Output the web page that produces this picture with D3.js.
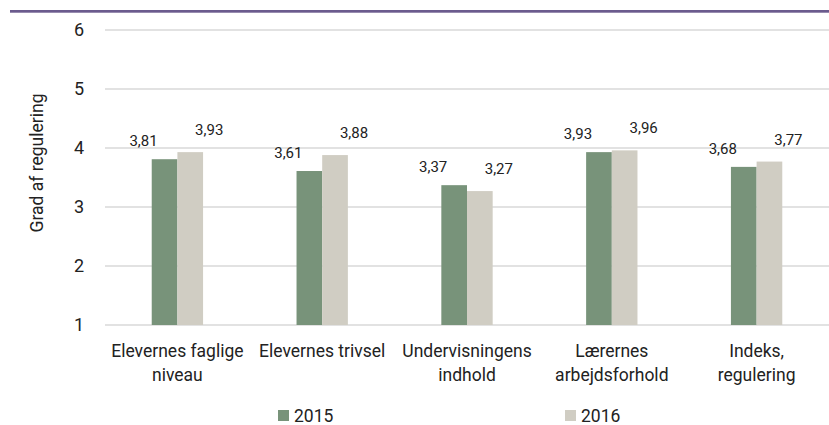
<!DOCTYPE html>
<html>
<head>
<meta charset="utf-8">
<script src="https://cdn.jsdelivr.net/npm/d3@7"></script>
<style>
  body { margin: 0; background: #fff; }
  svg { display: block; font-family: Roboto, "DejaVu Sans", sans-serif; }
</style>
</head>
<body>
<svg width="829" height="425"></svg>
<script>
var width = 829;
var height = 425;

var categories = [
  ["Elevernes faglige", "niveau"],
  ["Elevernes trivsel"],
  ["Undervisningens", "indhold"],
  ["Lærernes", "arbejdsforhold"],
  ["Indeks,", "regulering"]
];
var years = ["2015", "2016"];
var values2015 = [3.81, 3.61, 3.37, 3.93, 3.68];
var values2016 = [3.93, 3.88, 3.27, 3.96, 3.77];
var yTicks = [1, 2, 3, 4, 5, 6];

var colors = {"2015": "#78937a", "2016": "#d0cdc3"};
var labelShift = {"2015": [-21, -13], "2016": [19, -17]};

var svg = d3.select("svg");

// top rule
svg.append("rect")
  .attr("x", 10).attr("y", 10)
  .attr("width", width - 10).attr("height", 2.7)
  .attr("fill", "#6b5b8e");

var x = d3.scaleBand()
  .domain(d3.range(categories.length))
  .range([105, 829]);

var xs = d3.scaleBand()
  .domain(years)
  .range([0, x.bandwidth()])
  .paddingInner(0)
  .paddingOuter(1.82);

var y = d3.scaleLinear()
  .domain([1, 6])
  .range([325, 30]);

// gridlines
svg.append("g")
  .selectAll("line")
  .data(yTicks)
  .enter()
  .append("line")
  .attr("x1", 105)
  .attr("x2", 829)
  .attr("y1", function(d) { return y(d); })
  .attr("y2", function(d) { return y(d); })
  .attr("stroke", "#d9d9d9")
  .attr("stroke-width", 1.5);

// y tick labels
svg.append("g")
  .selectAll("text")
  .data(yTicks)
  .enter()
  .append("text")
  .attr("x", 84)
  .attr("y", function(d) { return y(d); })
  .attr("dy", "0.36em")
  .attr("text-anchor", "end")
  .attr("font-size", 18)
  .attr("fill", "#222")
  .text(function(d) { return d; });

// y title
svg.append("text")
  .attr("transform", "translate(43,163) rotate(-90)")
  .attr("text-anchor", "middle")
  .attr("font-size", 17.5)
  .attr("fill", "#222")
  .text("Grad af regulering");

var series = [
  {year: "2015", values: values2015},
  {year: "2016", values: values2016}
];

var groups = svg.append("g")
  .selectAll("g")
  .data(series)
  .enter()
  .append("g");

groups.selectAll("rect")
  .data(function(s) { return s.values.map(function(v, i) { return {year: s.year, i: i, v: v}; }); })
  .enter()
  .append("rect")
  .attr("x", function(d) { return x(d.i) + xs(d.year); })
  .attr("y", function(d) { return y(d.v); })
  .attr("width", xs.bandwidth())
  .attr("height", function(d) { return y(1) - y(d.v); })
  .attr("fill", function(d) { return colors[d.year]; });

groups.selectAll("text")
  .data(function(s) { return s.values.map(function(v, i) { return {year: s.year, i: i, v: v}; }); })
  .enter()
  .append("text")
  .attr("x", function(d) { return x(d.i) + xs(d.year) + xs.bandwidth() / 2 + labelShift[d.year][0]; })
  .attr("y", function(d) { return y(d.v) + labelShift[d.year][1]; })
  .attr("text-anchor", "middle")
  .attr("font-size", 15)
  .attr("fill", "#222")
  .text(function(d) { return d3.format(".2f")(d.v).replace(".", ","); });

// category labels
var cat = svg.append("g")
  .selectAll("text")
  .data(categories)
  .enter()
  .append("text")
  .attr("text-anchor", "middle")
  .attr("font-size", 17.5)
  .attr("fill", "#222")
  .attr("transform", function(d, i) { return "translate(" + (x(i) + x.bandwidth() / 2) + ",357)"; });

cat.selectAll("tspan")
  .data(function(d) { return d; })
  .enter()
  .append("tspan")
  .attr("x", 0)
  .attr("y", function(d, j) { return j * 24; })
  .text(function(d) { return d; });

// legend
var legendX = [278, 565];
var legend = svg.append("g")
  .selectAll("g")
  .data(years)
  .enter()
  .append("g")
  .attr("transform", function(d, i) { return "translate(" + legendX[i] + ",410)"; });

legend.append("rect")
  .attr("width", 11).attr("height", 11)
  .attr("fill", function(d) { return colors[d]; });

legend.append("text")
  .attr("x", 16)
  .attr("y", 11.5)
  .attr("font-size", 17.5)
  .attr("fill", "#222")
  .text(function(d) { return d; });
</script>
</body>
</html>
